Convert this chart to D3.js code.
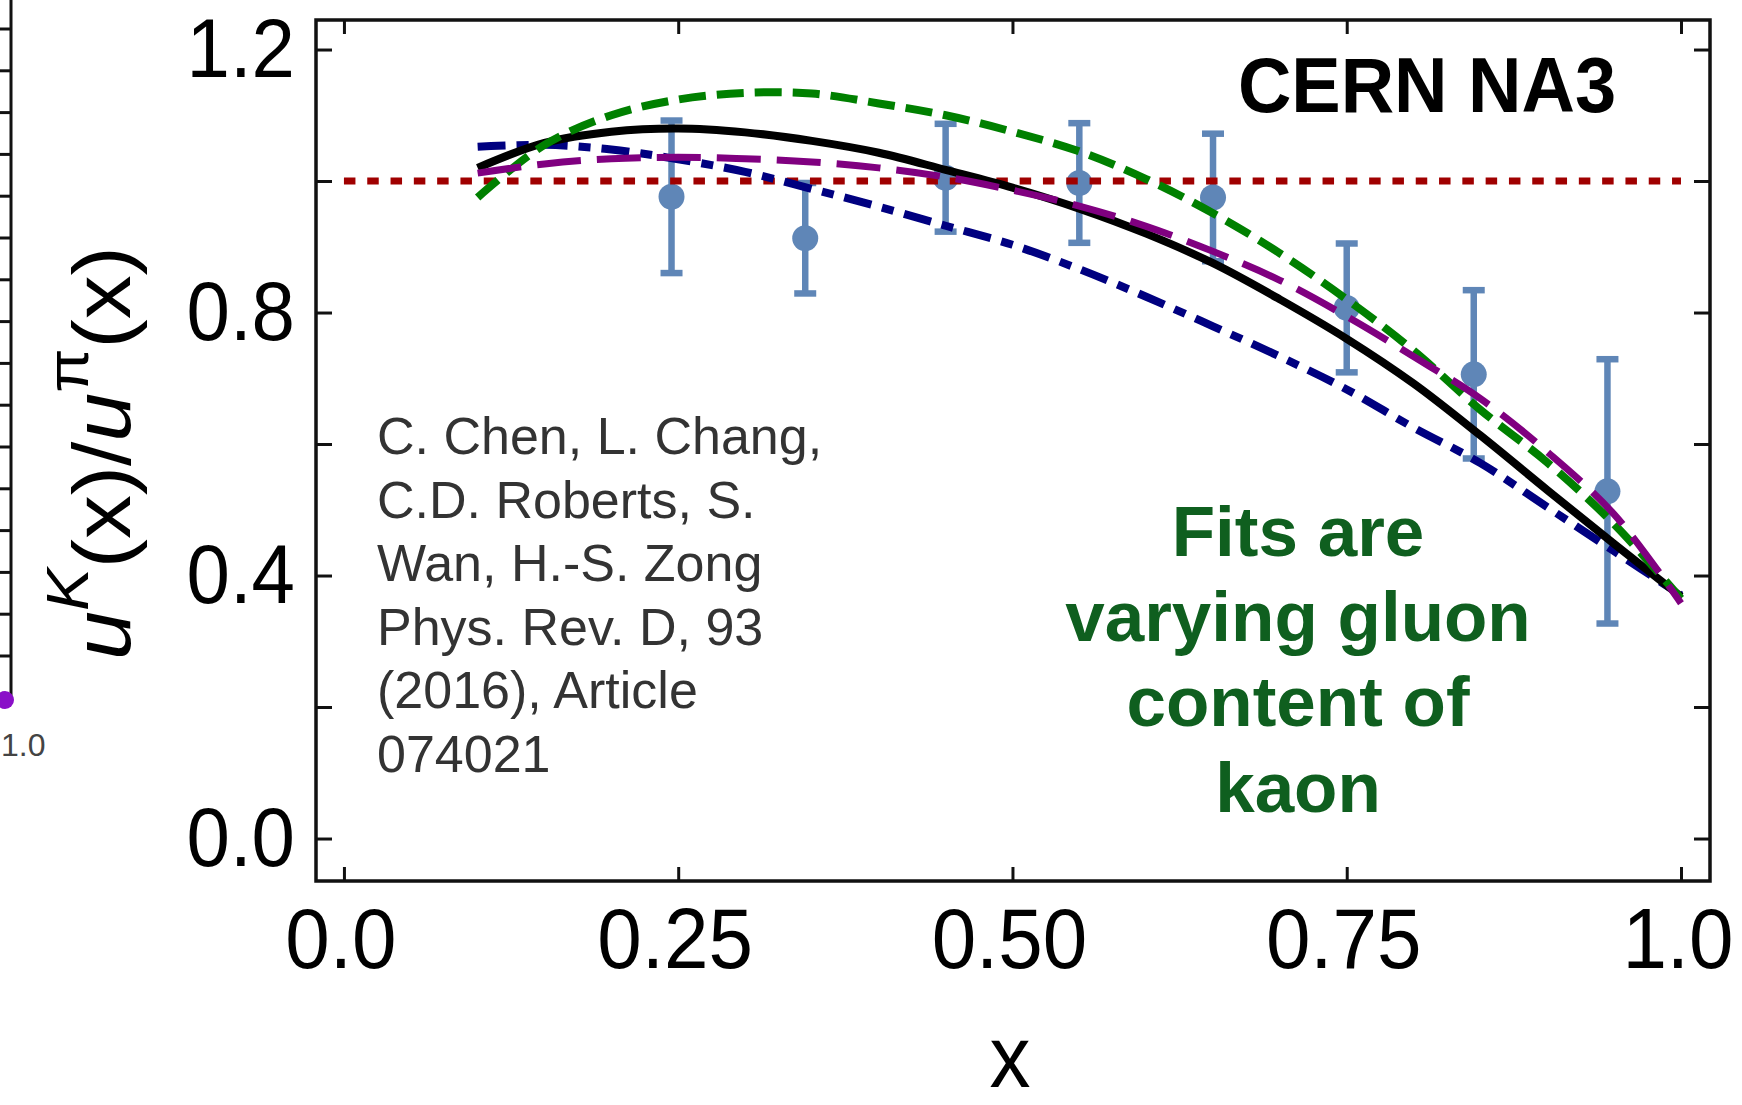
<!DOCTYPE html>
<html>
<head>
<meta charset="utf-8">
<script src="https://cdn.jsdelivr.net/npm/d3@7"></script>
<style>
  html, body { margin: 0; padding: 0; background: #fff; }
  svg { display: block; }
</style>
</head>
<body>
<svg id="chart" width="1742" height="1105"></svg>
<script>
// CERN NA3 ratio u^K(x)/u^pi(x): measured points with symmetric errors
const dataX   = [0.245, 0.345, 0.450, 0.550, 0.650, 0.750, 0.845, 0.945];
const dataY   = [0.976, 0.913, 1.005, 0.997, 0.975, 0.807, 0.706, 0.528];
const dataErr = [0.116, 0.084, 0.082, 0.091, 0.097, 0.098, 0.128, 0.201];

// Fit curves on a common x grid (varying gluon content)
const fitX      = [0.10, 0.15, 0.20, 0.25, 0.30, 0.35, 0.40, 0.45, 0.50, 0.55, 0.60, 0.65, 0.70, 0.75, 0.80, 0.85, 0.90, 0.95, 1.00];
const fitBlack  = [1.020, 1.058, 1.075, 1.080, 1.074, 1.061, 1.043, 1.017, 0.990, 0.958, 0.920, 0.875, 0.820, 0.760, 0.692, 0.613, 0.530, 0.448, 0.368];
const fitGreen  = [0.975, 1.055, 1.100, 1.124, 1.134, 1.133, 1.118, 1.100, 1.075, 1.045, 1.003, 0.951, 0.890, 0.820, 0.742, 0.652, 0.572, 0.478, 0.365];
const fitPurple = [1.012, 1.026, 1.034, 1.036, 1.034, 1.029, 1.020, 1.006, 0.986, 0.962, 0.931, 0.893, 0.849, 0.794, 0.733, 0.669, 0.588, 0.493, 0.358];
const fitBlue   = [1.052, 1.055, 1.048, 1.033, 1.014, 0.988, 0.961, 0.932, 0.903, 0.866, 0.824, 0.779, 0.733, 0.683, 0.625, 0.571, 0.504, 0.437, 0.370];

// Reference line u^K = u^pi
const refX = [0.0, 1.0];
const refY = [1.0, 1.0];

// Axis ticks and labels
const xTicks = [0, 0.25, 0.5, 0.75, 1.0];
const xTickLabels = ["0.0", "0.25", "0.50", "0.75", "1.0"];
const yTicks = [0, 0.2, 0.4, 0.6, 0.8, 1.0, 1.2];
const yLabelTicks = [0, 0.4, 0.8, 1.2];
const yTickLabels = ["0.0", "0.4", "0.8", "1.2"];

const citation = [
  "C. Chen, L. Chang,",
  "C.D. Roberts, S.",
  "Wan, H.-S. Zong",
  "Phys. Rev. D, 93",
  "(2016), Article",
  "074021"
];
const note = ["Fits are", "varying gluon", "content of", "kaon"];

const FONT = "'Liberation Sans', Arial, Helvetica, sans-serif";
const svg = d3.select("#chart");

// plot frame
const frame = { left: 316, right: 1710, top: 20, bottom: 881 };
const x = d3.scaleLinear().domain([-0.0209, 1.0217]).range([frame.left, frame.right]);
const y = d3.scaleLinear().domain([-0.0646, 1.2449]).range([frame.bottom, frame.top]);

// ---- edge of the neighbouring panel at the far left ----
const side = svg.append("g");
const sideY = d3.scaleLinear().domain([0, 15]).range([29, 656]);
side.append("line").attr("x1", 11).attr("x2", 11).attr("y1", 0).attr("y2", 702)
  .attr("stroke", "#111").attr("stroke-width", 3);
side.append("line").attr("x1", 0).attr("x2", 12.5).attr("y1", 702).attr("y2", 702)
  .attr("stroke", "#111").attr("stroke-width", 3);
side.selectAll("line.st").data(d3.range(16)).enter().append("line")
  .attr("class", "st")
  .attr("x1", 0).attr("x2", 11)
  .attr("y1", d => sideY(d)).attr("y2", d => sideY(d))
  .attr("stroke", "#111").attr("stroke-width", 3);
side.append("circle").attr("cx", 5).attr("cy", 700).attr("r", 9).attr("fill", "#8a10c8");
side.append("text").attr("x", 1).attr("y", 756).attr("font-family", FONT)
  .attr("font-size", 32).attr("fill", "#444").text("1.0");

// ---- axes (inward ticks on all four sides) ----
function styleAxis(g) {
  g.select(".domain").remove();
  g.selectAll(".tick line").attr("stroke", "#111").attr("stroke-width", 3);
  g.selectAll(".tick text").remove();
}
svg.append("g").attr("transform", `translate(0,${frame.bottom})`)
  .call(d3.axisBottom(x).tickValues(xTicks).tickSize(-14).tickFormat("")).call(styleAxis);
svg.append("g").attr("transform", `translate(0,${frame.top})`)
  .call(d3.axisTop(x).tickValues(xTicks).tickSize(-14).tickFormat("")).call(styleAxis);
svg.append("g").attr("transform", `translate(${frame.left},0)`)
  .call(d3.axisLeft(y).tickValues(yTicks).tickSize(-16).tickFormat("")).call(styleAxis);
svg.append("g").attr("transform", `translate(${frame.right},0)`)
  .call(d3.axisRight(y).tickValues(yTicks).tickSize(-16).tickFormat("")).call(styleAxis);

svg.append("rect")
  .attr("x", frame.left).attr("y", frame.top)
  .attr("width", frame.right - frame.left).attr("height", frame.bottom - frame.top)
  .attr("fill", "none").attr("stroke", "#111").attr("stroke-width", 3.5);

// tick labels
svg.selectAll("text.xl").data(xTicks).enter().append("text")
  .attr("class", "xl")
  .attr("transform", d => `translate(${x(d) - 3},968) scale(1,1.07)`)
  .attr("text-anchor", "middle")
  .attr("font-family", FONT).attr("font-size", 80).attr("fill", "#000")
  .text((d, i) => xTickLabels[i]);

svg.selectAll("text.yl").data(yLabelTicks).enter().append("text")
  .attr("class", "yl")
  .attr("transform", d => `translate(295,${y(d) + 27}) scale(1,1.07)`)
  .attr("text-anchor", "end")
  .attr("font-family", FONT).attr("font-size", 78).attr("fill", "#000")
  .text((d, i) => yTickLabels[i]);

// axis titles
svg.append("text")
  .attr("transform", "translate(1010,1087) scale(1,1.07)")
  .attr("text-anchor", "middle")
  .attr("font-family", FONT).attr("font-size", 82).attr("fill", "#000")
  .text("x");

const yTitle = svg.append("text")
  .attr("transform", "translate(130,453) rotate(-90) scale(1.07,1)")
  .attr("text-anchor", "middle")
  .attr("font-family", FONT).attr("font-size", 82).attr("fill", "#000");
yTitle.append("tspan").attr("font-style", "italic").text("u");
yTitle.append("tspan").attr("font-style", "italic").attr("font-size", 60).attr("dy", -42).text("K");
yTitle.append("tspan").attr("dy", 42).text("(x)/");
yTitle.append("tspan").attr("font-style", "italic").text("u");
yTitle.append("tspan").attr("font-size", 60).attr("dy", -42).text("π");
yTitle.append("tspan").attr("dy", 42).text("(x)");

// ---- data points with error bars ----
const ptColor = "#5f86b7";
const pts = svg.append("g");
const points = dataX.map((d, i) => ({ x: d, y: dataY[i], e: dataErr[i] }));
pts.selectAll("line.bar").data(points).enter().append("line")
  .attr("class", "bar")
  .attr("x1", d => x(d.x)).attr("x2", d => x(d.x))
  .attr("y1", d => y(d.y - d.e)).attr("y2", d => y(d.y + d.e))
  .attr("stroke", ptColor).attr("stroke-width", 6.5);
pts.selectAll("line.capT").data(points).enter().append("line")
  .attr("class", "capT")
  .attr("x1", d => x(d.x) - 11).attr("x2", d => x(d.x) + 11)
  .attr("y1", d => y(d.y + d.e)).attr("y2", d => y(d.y + d.e))
  .attr("stroke", ptColor).attr("stroke-width", 6.5);
pts.selectAll("line.capB").data(points).enter().append("line")
  .attr("class", "capB")
  .attr("x1", d => x(d.x) - 11).attr("x2", d => x(d.x) + 11)
  .attr("y1", d => y(d.y - d.e)).attr("y2", d => y(d.y - d.e))
  .attr("stroke", ptColor).attr("stroke-width", 6.5);
pts.selectAll("circle").data(points).enter().append("circle")
  .attr("cx", d => x(d.x)).attr("cy", d => y(d.y)).attr("r", 13)
  .attr("fill", ptColor);

// ---- curves ----
const line = d3.line()
  .x(d => x(d[0])).y(d => y(d[1]))
  .curve(d3.curveCatmullRom.alpha(0.5));
const zip = (xs, ys) => xs.map((v, i) => [v, ys[i]]);

const curves = [
  { pts: zip(refX, refY),        color: "#a00000", width: 7,   dash: "11.5,11.8" },
  { pts: zip(fitX, fitBlue),     color: "#000080", width: 8,   dash: "28,11,12,11" },
  { pts: zip(fitX, fitBlack),    color: "#000000", width: 8,   dash: null },
  { pts: zip(fitX, fitGreen),    color: "#008000", width: 8,   dash: "27,11" },
  { pts: zip(fitX, fitPurple),   color: "#800080", width: 7,   dash: "44,16" }
];
svg.append("g").selectAll("path").data(curves).enter().append("path")
  .attr("d", d => line(d.pts))
  .attr("fill", "none")
  .attr("stroke", d => d.color)
  .attr("stroke-width", d => d.width)
  .attr("stroke-dasharray", d => d.dash)
  .attr("stroke-linecap", "butt");

// ---- annotations ----
svg.append("text")
  .attr("transform", "translate(1427,112) scale(1,1.05)")
  .attr("text-anchor", "middle")
  .attr("font-family", FONT).attr("font-weight", "bold").attr("font-size", 74)
  .attr("fill", "#000").text("CERN NA3");

svg.append("g").selectAll("text").data(citation).enter().append("text")
  .attr("x", 377).attr("y", (d, i) => 454 + i * 63.5)
  .attr("font-family", FONT).attr("font-size", 52).attr("fill", "#333")
  .text(d => d);

svg.append("g").selectAll("text").data(note).enter().append("text")
  .attr("x", 1298).attr("y", (d, i) => 556 + i * 85.2)
  .attr("text-anchor", "middle")
  .attr("font-family", FONT).attr("font-weight", "bold").attr("font-size", 71)
  .attr("fill", "#0f5f1f")
  .text(d => d);
</script>
</body>
</html>
